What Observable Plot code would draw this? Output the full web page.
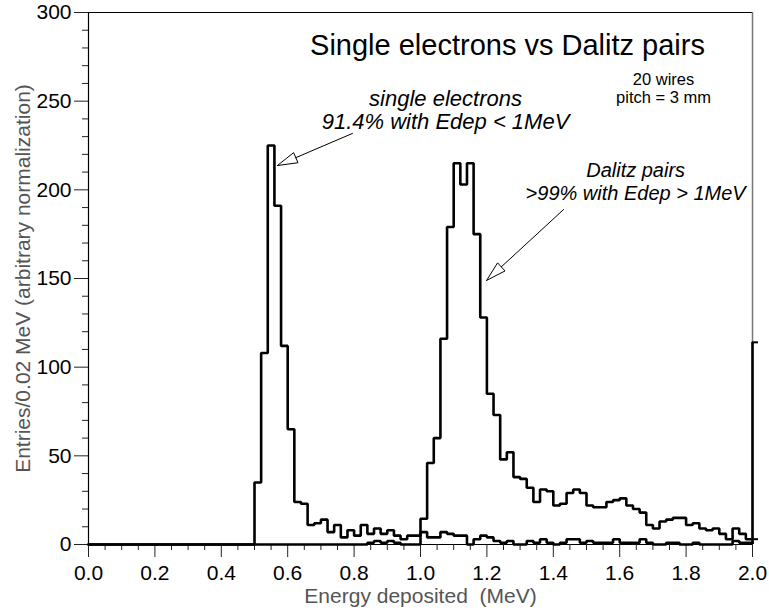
<!DOCTYPE html>
<html>
<head>
<meta charset="utf-8">
<script src="https://cdn.jsdelivr.net/npm/d3@7"></script>
<script src="https://cdn.jsdelivr.net/npm/@observablehq/plot@0.6"></script>
<style>
  html, body { margin: 0; padding: 0; background: #fff; overflow: hidden; }
</style>
</head>
<body>
<div id="chart"></div>
<script>
// ---------------- data ----------------
const binWidth = 0.02; // MeV per bin, bins start at 0.00
const singleElectrons = [
  0, 0, 0, 0, 0, 0, 0, 0, 0, 0,
  0, 0, 0, 0, 0, 0, 0, 0, 0, 0,
  0, 0, 0, 0, 0, 35, 108, 225, 191, 112,
  65, 24, 23, 11, 12, 14, 7, 11, 4, 8,
  5, 11, 6, 9, 6, 8, 5, 3, 5, 5,
  7, 4, 4, 7, 6, 5, 5, 0, 3, 5,
  4, 2, 1, 2, 0, 0, 2, 1, 3, 1,
  0, 1, 3, 3, 1, 2, 1, 1, 1, 3,
  1, 1, 1, 3, 1, 0, 0, 1, 1, 0,
  0, 1, 0, 0, 0, 0, 0, 2, 1, 1
];
const dalitzPairs = [
  0, 0, 0, 0, 0, 0, 0, 0, 0, 0,
  0, 0, 0, 0, 0, 0, 0, 0, 0, 0,
  0, 0, 0, 0, 0, 0, 0, 0, 0, 0,
  0, 0, 0, 0, 0, 0, 0, 0, 0, 0,
  0, 0, 1, 2, 1, 2, 1, 0, 0, 0,
  14.5, 46, 60, 116, 179, 215, 203, 215, 175, 128,
  85, 73, 48, 52, 38, 37, 32, 24, 31, 30,
  22, 23, 29, 31, 29, 22, 21, 21, 24, 25,
  26, 22, 20, 18, 11, 9, 13, 14, 15, 15,
  11, 12, 9, 8, 9, 6, 3, 9, 6, 3
];
const overflowValue = 114;
const lastBinStub = 3;

const xTicks = [0.0, 0.2, 0.4, 0.6, 0.8, 1.0, 1.2, 1.4, 1.6, 1.8, 2.0];
const xMinorTicks = [0.05,0.1,0.15,0.25,0.3,0.35,0.45,0.5,0.55,0.65,0.7,0.75,0.85,0.9,0.95,
                     1.05,1.1,1.15,1.25,1.3,1.35,1.45,1.5,1.55,1.65,1.7,1.75,1.85,1.9,1.95];
const yTicks = [0, 50, 100, 150, 200, 250, 300];
const yMinorTicks = [10,20,30,40,60,70,80,90,110,120,130,140,160,170,180,190,210,220,230,240,260,270,280,290];

const titleText = "Single electrons vs Dalitz pairs";
const setupText = "20 wires\npitch = 3 mm";
const singleNote = "single electrons\n91.4% with Edep < 1MeV";
const dalitzNote = "Dalitz pairs\n>99% with Edep > 1MeV";
const xLabel = "Energy deposited\u00a0\u00a0(MeV)";
const yLabel = "Entries/0.02 MeV (arbitrary normalization)";

// ---------------- layout ----------------
const W = 769, H = 611;
const mL = 88, mR = 17, mT = 12, mB = 67;
const xDomain = [0, 2], yDomain = [0, 300];
const pxX = (W - mL - mR) / (xDomain[1] - xDomain[0]);
const pxY = (H - mT - mB) / (yDomain[1] - yDomain[0]);
const FONT = "'Liberation Sans', Arial, Helvetica, sans-serif";

// histogram outlines (bin edges + closing edge)
function outline(values) {
  const pts = values.map((v, i) => ({x: i * binWidth, y: v}));
  pts.push({x: values.length * binWidth, y: values[values.length - 1]});
  return pts;
}

// annotation arrows (data coordinates)
const arrows = [
  {id: "se", x1: 0.795, y1: 231.8, x2: 0.569, y2: 213.7},
  {id: "dp", x1: 1.431, y1: 188.9, x2: 1.199, y2: 148.9}
];
function arrowParts(a, L = 20, Wd = 5.5) {
  const dx = (a.x2 - a.x1) * pxX, dy = -(a.y2 - a.y1) * pxY;
  const len = Math.hypot(dx, dy), ux = dx / len, uy = dy / len;
  const toData = (px, py) => ({x: a.x2 + px / pxX, y: a.y2 - py / pxY, id: a.id});
  const bx = -ux * L, by = -uy * L;
  const head = [toData(0, 0), toData(bx - uy * Wd, by + ux * Wd), toData(bx + uy * Wd, by - ux * Wd), toData(0, 0)];
  const base = toData(bx, by);
  const shaft = [{x: a.x1, y: a.y1, id: a.id}, base];
  return {head, shaft};
}
const heads = arrows.flatMap(a => arrowParts(a).head);
const shafts = arrows.flatMap(a => arrowParts(a).shaft);

const chart = Plot.plot({
  width: W, height: H,
  marginLeft: mL, marginRight: mR, marginTop: mT, marginBottom: mB,
  x: {domain: xDomain},
  y: {domain: yDomain},
  style: {fontFamily: FONT, fontSize: "21px", color: "#000", background: "#fff"},
  marks: [
    // frame
    Plot.ruleY([yDomain[1]], {stroke: "#000", strokeWidth: 1.2}),
    Plot.ruleX([xDomain[1]], {stroke: "#777", strokeWidth: 1.5}),
    Plot.ruleX([xDomain[0]], {stroke: "#000", strokeWidth: 1.2}),
    Plot.ruleY([0], {stroke: "#000", strokeWidth: 1.2}),
    // axes
    Plot.axisX({ticks: xMinorTicks, tickSize: 6, tickFormat: () => "", label: null, stroke: "#222"}),
    Plot.axisX({ticks: xTicks, tickSize: 13, tickPadding: 8, tickFormat: d3.format(".1f"), label: null, stroke: "#222", fill: "#000"}),
    Plot.axisY({ticks: yMinorTicks, tickSize: 6, tickFormat: () => "", label: null, stroke: "#222"}),
    Plot.axisY({ticks: yTicks, tickSize: 14, tickPadding: 3, tickFormat: d => String(d), label: null, stroke: "#222", fill: "#000"}),
    // histograms
    Plot.line(outline(dalitzPairs), {x: "x", y: "y", curve: "step-after", stroke: "#000", strokeWidth: 2.6, strokeLinejoin: "miter"}),
    Plot.line(outline(singleElectrons), {x: "x", y: "y", curve: "step-after", stroke: "#000", strokeWidth: 2.6, strokeLinejoin: "miter"}),
    // overflow spike at the right edge
    Plot.ruleX([xDomain[1]], {y1: 0, y2: overflowValue, stroke: "#000", strokeWidth: 2.6}),
    Plot.ruleY([overflowValue, lastBinStub], {x1: xDomain[1], x2: xDomain[1] + 6 / pxX, stroke: "#000", strokeWidth: 2}),
    // arrows
    Plot.line(shafts, {x: "x", y: "y", z: "id", stroke: "#000", strokeWidth: 1}),
    Plot.line(heads, {x: "x", y: "y", z: "id", stroke: "#000", strokeWidth: 1, strokeLinejoin: "miter"}),
    // texts
    Plot.text([titleText], {x: 1.262, y: 275.8, text: d => d, fontSize: 29, lineAnchor: "bottom", textAnchor: "middle", fill: "#000"}),
    Plot.text([setupText], {x: 1.732, y: 249.0, text: d => d, fontSize: 16.5, lineAnchor: "bottom", textAnchor: "middle", fill: "#000", lineHeight: 1.1}),
    Plot.text([singleNote], {x: 1.0753, y: 234.1, text: d => d, fontSize: 22, fontStyle: "italic", lineAnchor: "bottom", textAnchor: "middle", fill: "#000", lineHeight: 1.08}),
    Plot.text([dalitzNote], {x: 1.648, y: 194.0, text: d => d, fontSize: 20, fontStyle: "italic", lineAnchor: "bottom", textAnchor: "middle", fill: "#000", lineHeight: 1.15}),
    // axis titles
    Plot.text([xLabel], {frameAnchor: "bottom", dy: 58, text: d => d, fontSize: 21, lineAnchor: "bottom", textAnchor: "middle", fill: "#555"}),
    Plot.text([yLabel], {frameAnchor: "left", dx: -65, text: d => d, fontSize: 21, rotate: -90, lineAnchor: "middle", textAnchor: "middle", fill: "#555"})
  ]
});
document.getElementById("chart").appendChild(chart);
</script>
</body>
</html>
